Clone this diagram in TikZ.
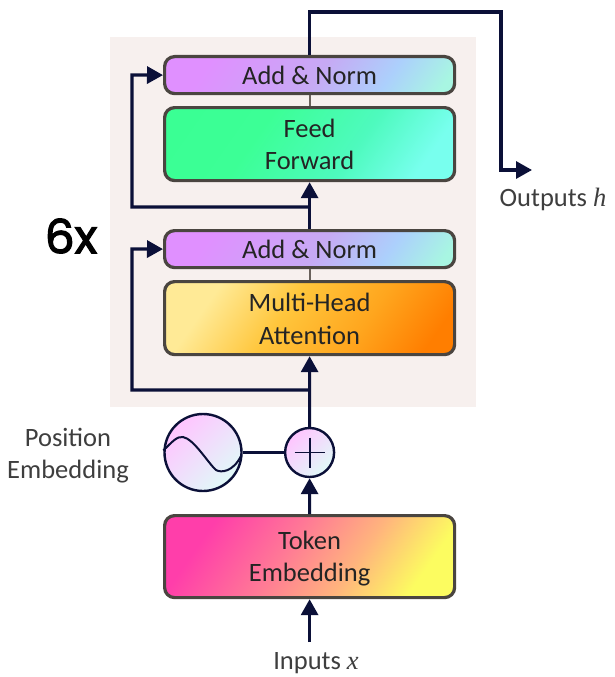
\documentclass[tikz,border=0pt]{standalone}
\usepackage{fontspec}
\setmainfont{Carlito}
\newfontfamily\varfont{Liberation Serif}
\newfontfamily\bigfont[FakeBold=2.5]{Poppins}
\usetikzlibrary{arrows.meta}

% Palette
\definecolor{wire}{HTML}{0B1038}
\definecolor{blockedge}{HTML}{4A4540}
\definecolor{stubline}{HTML}{6A625C}
\definecolor{panel}{HTML}{F7F0EE}
\definecolor{inktext}{HTML}{242424}
\definecolor{sidetext}{HTML}{3E3E3E}
\definecolor{anA}{RGB}{224,144,255}
\definecolor{anB}{RGB}{198,170,244}
\definecolor{anC}{RGB}{172,208,252}
\definecolor{anD}{RGB}{168,246,226}
\definecolor{ffA}{RGB}{56,255,146}
\definecolor{ffB}{RGB}{60,255,150}
\definecolor{ffC}{RGB}{78,250,190}
\definecolor{ffD}{RGB}{120,255,238}
\definecolor{maA}{RGB}{255,234,150}
\definecolor{maB}{RGB}{255,198,60}
\definecolor{maC}{RGB}{255,166,30}
\definecolor{maD}{RGB}{255,126,0}
\definecolor{tkA}{RGB}{255,62,170}
\definecolor{tkB}{RGB}{255,120,150}
\definecolor{tkC}{RGB}{255,180,125}
\definecolor{tkD}{RGB}{252,252,96}
\definecolor{dlA}{RGB}{255,196,255}
\definecolor{dlB}{RGB}{224,250,248}

% Colour gradients of the blocks
\pgfdeclarehorizontalshading{addnormfill}{100bp}{
  color(0bp)=(anA); color(26bp)=(anA); color(52bp)=(anB);
  color(68bp)=(anC); color(81bp)=(anD); color(100bp)=(anD)}
\pgfdeclarehorizontalshading{feedfill}{100bp}{
  color(0bp)=(ffA); color(38bp)=(ffB); color(60bp)=(ffC);
  color(76bp)=(ffD); color(100bp)=(ffD)}
\pgfdeclarehorizontalshading{attentionfill}{100bp}{
  color(0bp)=(maA); color(27bp)=(maA); color(44bp)=(maB);
  color(62bp)=(maC); color(78bp)=(maD); color(100bp)=(maD)}
\pgfdeclarehorizontalshading{tokenfill}{100bp}{
  color(0bp)=(tkA); color(26bp)=(tkA); color(44bp)=(tkB);
  color(60bp)=(tkC); color(75bp)=(tkD); color(100bp)=(tkD)}
\pgfdeclarehorizontalshading{dialfill}{100bp}{
  color(0bp)=(dlA); color(25bp)=(dlA); color(75bp)=(dlB); color(100bp)=(dlB)}

\tikzset{
  block/.style={draw=blockedge, line width=3.2pt, rounded corners=10pt,
    minimum width=290pt, align=center, font=\fontsize{26.5}{32.5}\selectfont,
    text=inktext, inner sep=0pt, anchor=north west},
  thinblock/.style={block, minimum height=37pt, shading=addnormfill, shading angle=-35},
  wideblock/.style={block, minimum height=73pt, shading angle=-35},
  dial/.style={circle, draw=wire, line width=2.4pt, shading=dialfill,
    shading angle=-45, inner sep=0pt},
  flow/.style={draw=wire, line width=3.2pt, line join=miter,
    -{Triangle[width=17pt,length=16pt]}},
  plain/.style={draw=wire, line width=2.2pt},
  stub/.style={draw=stubline, line width=2pt},
  sidelabel/.style={font=\fontsize{26.5}{32}\selectfont, text=sidetext, align=center}
}

% Invisible strut that sets the height of a block's first text line
\newcommand{\firstline}[1]{\rule{0pt}{#1}}

\begin{document}
\begin{tikzpicture}[x=1pt, y=-1pt]
  \useasboundingbox (0,0) rectangle (614,677);
  \fill[white] (0,0) rectangle (614,677);
  \fill[panel] (110,37) rectangle (476,407);

  % Encoder blocks
  \node[thinblock] (an2) at (163,55) {Add \& Norm};
  \node[wideblock, shading=feedfill] (ff) at (163,106) {\firstline{19pt}Feed\\Forward};
  \node[thinblock] (an1) at (163,229) {Add \& Norm};
  \node[wideblock, shading=attentionfill] (mha) at (163,280) {\firstline{20pt}Multi-Head\\Attention};
  \node[block, minimum height=82pt, shading=tokenfill, shading angle=-35] (tok) at (163,514) {\firstline{22pt}Token\\Embedding};

  % Positional encoding dial and summing junction
  \node[dial, minimum size=77pt] (pos) at (203,452.5) {};
  \node[dial, minimum size=49pt] (sum) at (309.6,452.5) {};
  \draw[wire, line width=1.8pt] (sum.center) ++(-15,0) -- ++(30,0);
  \draw[wire, line width=1.8pt] (sum.center) ++(0,-15) -- ++(0,30);
  \draw[wire, line width=2pt] (pos.west) ++(0,-2)
    .. controls (172,442) and (177,436) .. (183,437)
    .. controls (194,439) and (208,463) .. (216,470)
    .. controls (221,473) and (233,472) .. (241,456);

  % Free ends and branch points
  \coordinate (inputend) at (tok.south |- 0,642);
  \coordinate (branchlow) at (tok.north |- 0,390);
  \coordinate (branchhigh) at (tok.north |- 0,207);
  \coordinate (outcorner) at (501,12);
  \coordinate (outbend) at (501,170);
  \coordinate (outtip) at (532,170);

  % Connectors
  \draw[stub] (an2.south) -- (ff.north);
  \draw[stub] (an1.south) -- (mha.north);
  \draw[flow] (inputend) -- (tok.south);
  \draw[flow] (tok.north) -- (sum.south);
  \draw[plain] (pos.east) -- (sum.west);
  \draw[flow] (sum.north) -- (mha.south);
  \draw[flow] (an1.north) -- (ff.south);
  \draw[flow] (branchlow) -| (132,249) -- (an1.west);
  \draw[flow] (branchhigh) -| (132,75) -- (an2.west);
  \draw[flow] (an2.north) |- (outcorner) -- (outbend) -- (outtip);

  % Labels
  \node[sidelabel] (poslabel) at (68,455.5) {Position\\Embedding};
  \node[sidelabel] (outlabel) at (553,199) {Outputs {\varfont\itshape h}};
  \node[sidelabel] (inlabel) at (316,663) {Inputs {\varfont\itshape x}};
  \node[font=\bigfont\fontsize{47}{47}\selectfont, text=black] (rep) at (71,236) {6x};
\end{tikzpicture}
\end{document}
